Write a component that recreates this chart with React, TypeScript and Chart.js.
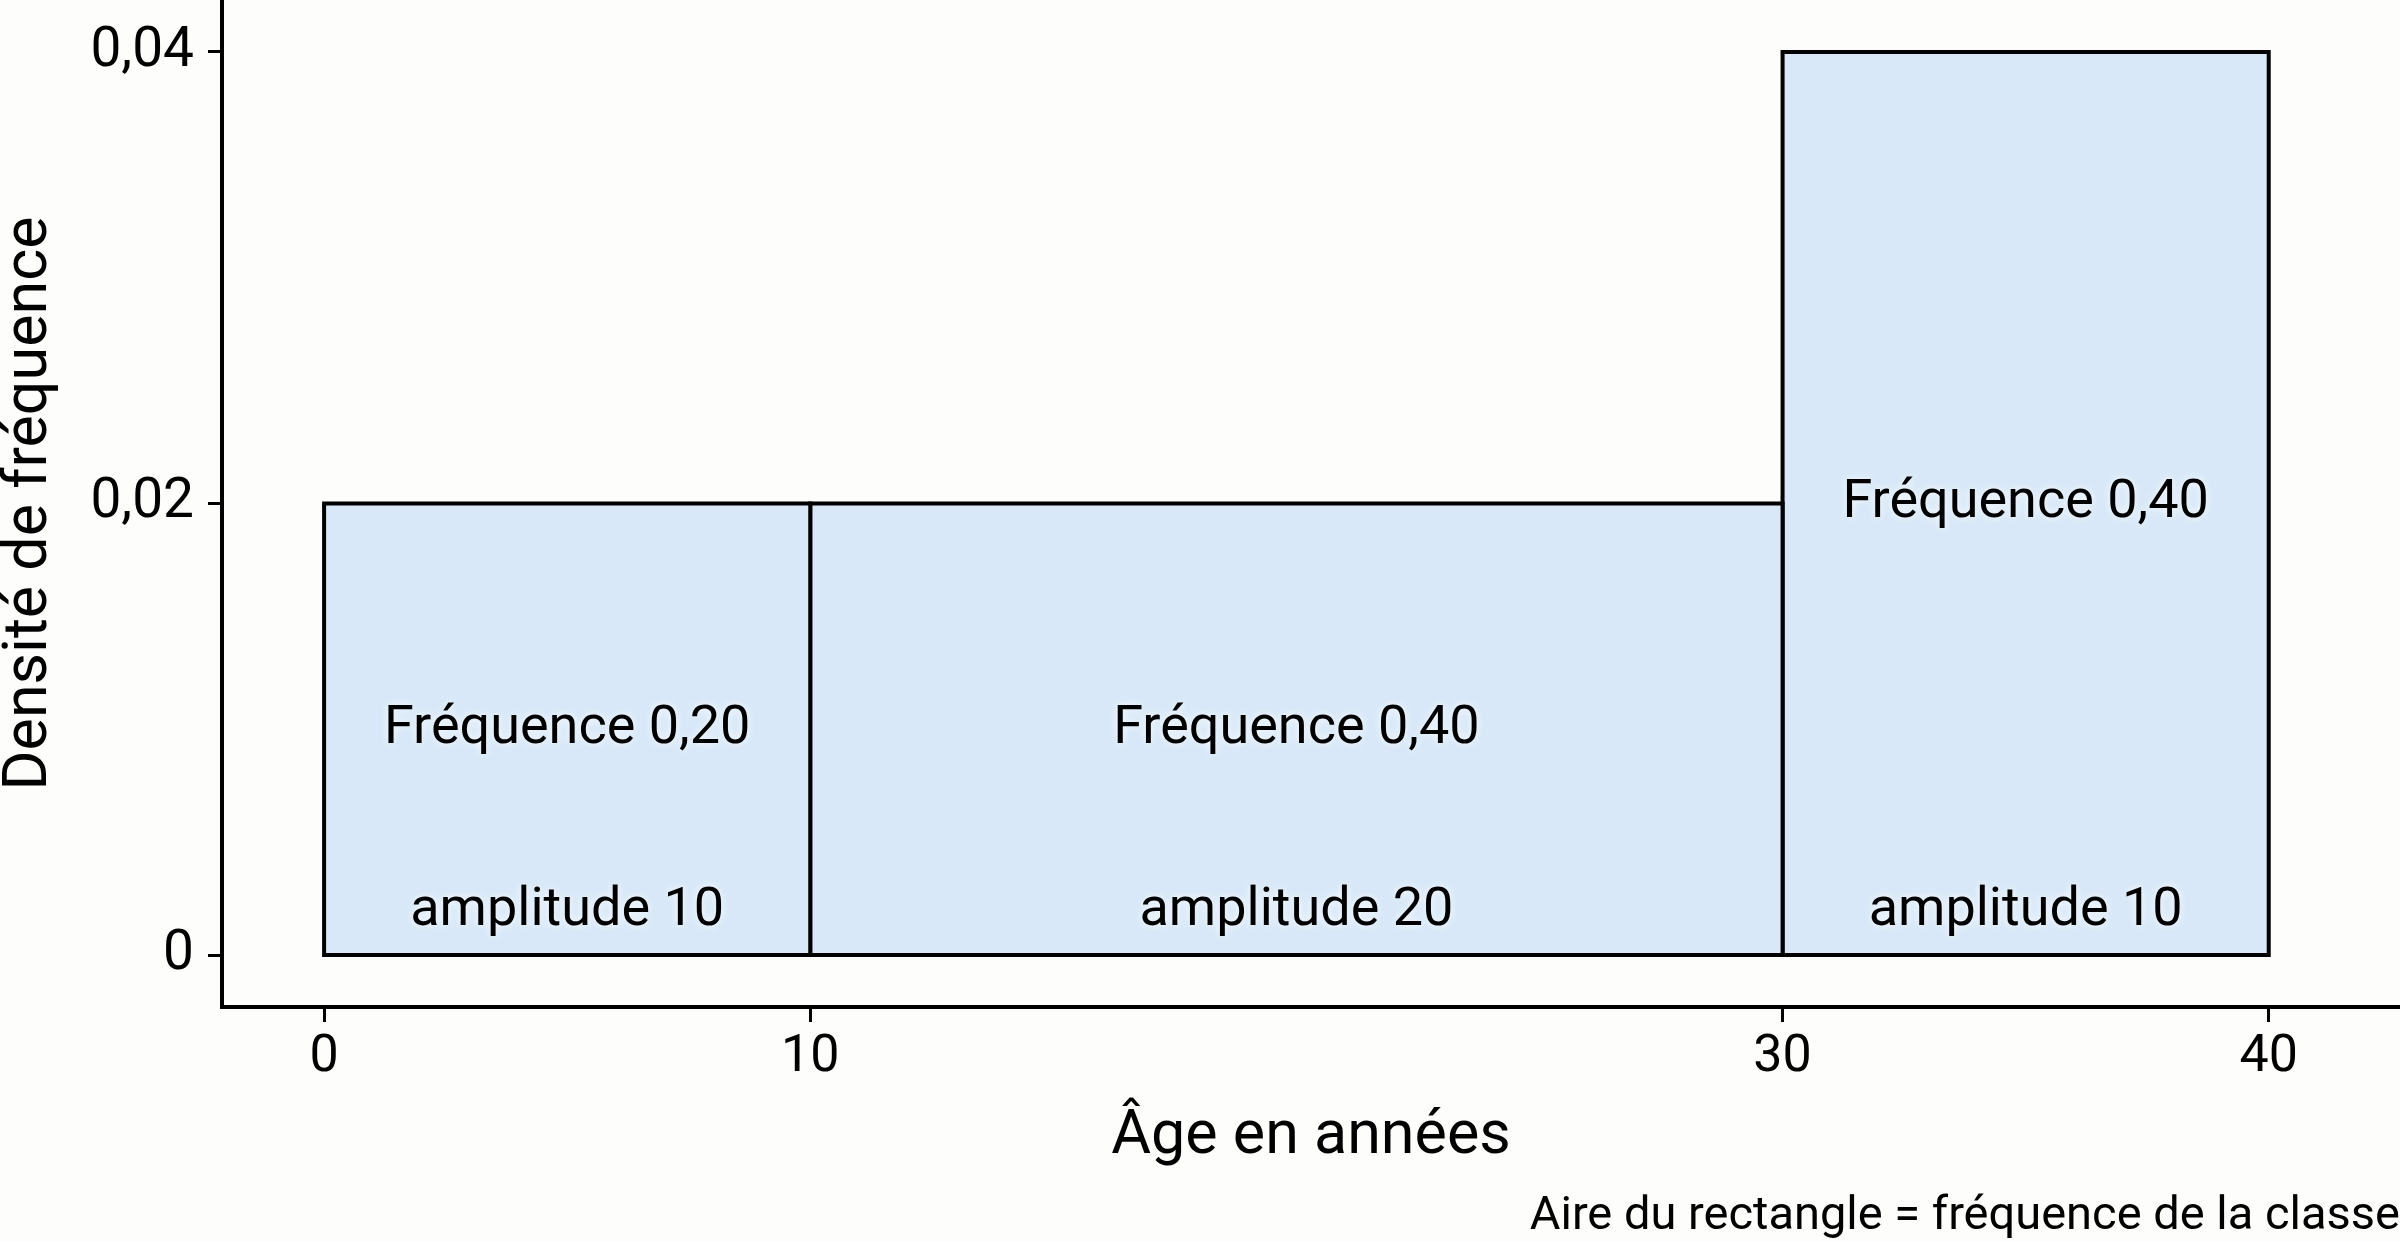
import React, { useRef, useEffect } from "react";
import { Chart, registerables } from "chart.js";

Chart.register(...registerables);

// classes de l'histogramme (bornes, densités, fréquences, amplitudes)
const classBounds = [0, 10, 30, 40];
const densities = [0.02, 0.02, 0.04];
const frequencies = [0.2, 0.4, 0.4];
const amplitudes = [10, 20, 10];

// graduations
const xTickValues = [0, 10, 30, 40];
const yTickValues = [0, 0.02, 0.04];

const FONT = "Roboto, 'Noto Sans', sans-serif";
const BAR_FILL = "#d8e8f8";
const BG = "#fdfdfb";

const fmt = (v: number, digits: number) => v.toFixed(digits).replace(".", ",");

const backgroundPlugin = {
  id: "bg",
  beforeDraw(chart: any) {
    const { ctx, width, height } = chart;
    ctx.save();
    ctx.fillStyle = BG;
    ctx.fillRect(0, 0, width, height);
    ctx.restore();
  },
};

const labelsPlugin = {
  id: "classLabels",
  afterDatasetsDraw(chart: any) {
    const { ctx, scales } = chart;
    const x = scales.x;
    const y = scales.y;
    ctx.save();
    ctx.font = `54px ${FONT}`;
    ctx.fillStyle = "#000";
    ctx.textAlign = "center";
    ctx.textBaseline = "middle";
    ctx.shadowColor = "rgba(255,255,255,0.95)";
    ctx.shadowBlur = 8;
    densities.forEach((d, i) => {
      const cx = x.getPixelForValue((classBounds[i] + classBounds[i + 1]) / 2);
      ctx.fillText(`Fréquence ${fmt(frequencies[i], 2)}`, cx, y.getPixelForValue(d / 2));
      ctx.fillText(`amplitude ${amplitudes[i]}`, cx, y.getPixelForValue(0) - 44);
    });
    ctx.restore();
  },
};

export default function App() {
  const canvasRef = useRef<HTMLCanvasElement>(null);
  const chartRef = useRef<Chart | null>(null);

  useEffect(() => {
    if (!canvasRef.current) return;
    if (chartRef.current) chartRef.current.destroy();
    const ctx = canvasRef.current.getContext("2d");
    if (!ctx) return;

    const datasets = densities.map((d, i) => {
      const lo = classBounds[i];
      const hi = classBounds[i + 1];
      return {
        label: `${lo}-${hi}`,
        data: [
          { x: lo, y: 0 },
          { x: lo, y: d },
          { x: hi, y: d },
          { x: hi, y: 0 },
          { x: lo, y: 0 },
        ],
        fill: "shape",
        backgroundColor: BAR_FILL,
        borderColor: "#000",
        borderWidth: 4,
        borderJoinStyle: "miter",
        borderCapStyle: "square",
        pointRadius: 0,
        pointHoverRadius: 0,
        tension: 0,
      };
    });

    chartRef.current = new Chart(ctx, {
      type: "line",
      data: { datasets: datasets as any },
      plugins: [backgroundPlugin, labelsPlugin],
      options: {
        responsive: true,
        maintainAspectRatio: false,
        animation: false,
        layout: { padding: 0 },
        plugins: {
          legend: { display: false },
          tooltip: { enabled: false },
          title: {
            display: true,
            text: "Aire du rectangle = fréquence de la classe",
            position: "bottom",
            align: "end",
            color: "#000",
            font: { family: FONT, size: 47, weight: "normal", lineHeight: 1 },
            padding: { top: 0, bottom: 0 },
          },
        },
        scales: {
          x: {
            type: "linear",
            min: -2.1,
            max: 42.7,
            afterBuildTicks: (scale: any) => {
              scale.ticks = xTickValues.map((v) => ({ value: v }));
            },
            afterFit: (scale: any) => {
              scale.height = 187;
              scale.paddingLeft = 0;
              scale.paddingRight = 0;
            },
            ticks: {
              color: "#000",
              padding: 5,
              font: { family: FONT, size: 52 },
              callback: (v: any) => String(v),
            },
            grid: {
              drawOnChartArea: false,
              drawTicks: true,
              tickLength: 15,
              tickWidth: 3,
              tickColor: "#000",
            },
            border: { display: true, color: "#000", width: 4 },
            title: {
              display: true,
              text: "Âge en années",
              color: "#000",
              font: { family: FONT, size: 61, lineHeight: 1 },
              padding: { top: 0, bottom: 25.5 },
            },
          },
          y: {
            type: "linear",
            min: -0.0023,
            max: 0.0423,
            afterBuildTicks: (scale: any) => {
              scale.ticks = yTickValues.map((v) => ({ value: v }));
            },
            afterFit: (scale: any) => {
              scale.width = 222;
              scale.paddingTop = 0;
              scale.paddingBottom = 0;
            },
            ticks: {
              color: "#000",
              padding: 14,
              font: { family: FONT, size: 55 },
              callback: (v: any) => (v === 0 ? "0" : fmt(Number(v), 2)),
            },
            grid: {
              drawOnChartArea: false,
              drawTicks: true,
              tickLength: 14,
              tickWidth: 3,
              tickColor: "#000",
            },
            border: { display: true, color: "#000", width: 4 },
            title: {
              display: true,
              text: "Densité de fréquence",
              color: "#000",
              font: { family: FONT, size: 61, lineHeight: 1 },
              padding: { top: 0, bottom: 0 },
            },
          },
        },
      } as any,
    });

    return () => {
      if (chartRef.current) {
        chartRef.current.destroy();
        chartRef.current = null;
      }
    };
  }, []);

  return (
    <div
      style={{
        position: "fixed",
        left: 0,
        top: 0,
        width: "2400px",
        height: "1241px",
        background: BG,
      }}
    >
      <canvas ref={canvasRef}></canvas>
    </div>
  );
}
